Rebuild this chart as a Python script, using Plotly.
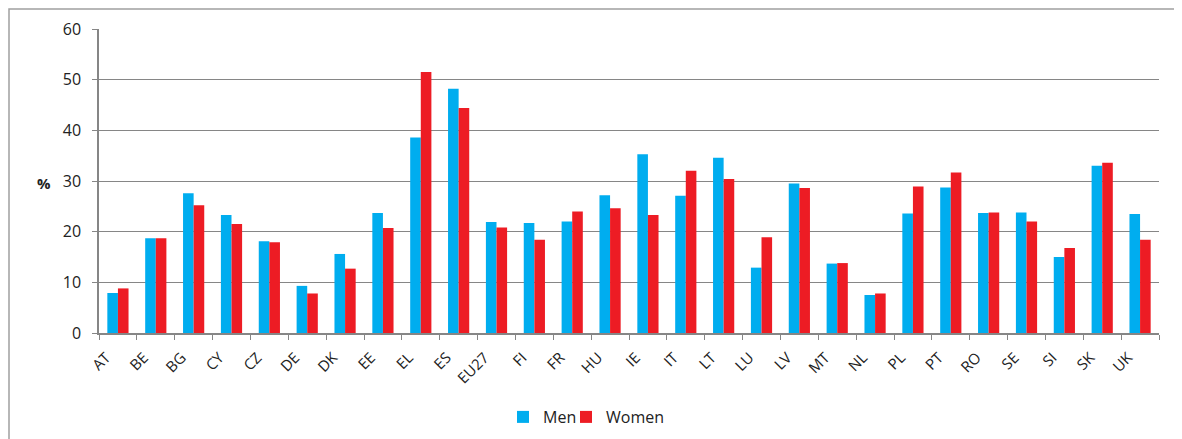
import plotly.graph_objects as go

countries = ["AT", "BE", "BG", "CY", "CZ", "DE", "DK", "EE", "EL", "ES", "EU27", "FI", "FR", "HU",
             "IE", "IT", "LT", "LU", "LV", "MT", "NL", "PL", "PT", "RO", "SE", "SI", "SK", "UK"]
men = [7.9, 18.7, 27.6, 23.3, 18.1, 9.3, 15.6, 23.7, 38.6, 48.2, 21.9, 21.7, 22.0, 27.2,
       35.3, 27.1, 34.6, 12.9, 29.5, 13.7, 7.5, 23.6, 28.7, 23.7, 23.8, 15.0, 33.0, 23.5]
women = [8.8, 18.7, 25.2, 21.5, 17.9, 7.8, 12.7, 20.7, 51.5, 44.4, 20.8, 18.4, 24.0, 24.6,
         23.3, 32.0, 30.4, 18.9, 28.6, 13.8, 7.8, 28.9, 31.7, 23.8, 22.0, 16.8, 33.6, 18.4]

FONT = "Open Sans"
GRID = "#868686"

W, H = 1174, 431
L, R, T, B = 91, 23, 21, 106
PW, PH = W - L - R, H - T - B

fig = go.Figure()
fig.add_trace(go.Bar(x=countries, y=men, name="Men", legend="legend", showlegend=True,
                     marker=dict(color="#00ADEF", line=dict(width=0))))
fig.add_trace(go.Bar(x=countries, y=women, name="Women", legend="legend2", showlegend=True,
                     marker=dict(color="#ED1C24", line=dict(width=0))))

legend_common = dict(orientation="h", xanchor="left", y=(PH + T - 409) / PH, yanchor="middle",
                     font=dict(size=16), bgcolor="rgba(0,0,0,0)", visible=True)

fig.update_layout(
    width=W, height=H,
    showlegend=True,
    margin=dict(l=L, r=R, t=T, b=B, autoexpand=False),
    paper_bgcolor="white", plot_bgcolor="white",
    barmode="group", bargap=0.44, bargroupgap=0,
    font=dict(family=FONT, size=15, color="#222222"),
    legend=dict(x=(495 - L) / PW, **legend_common),
    legend2=dict(x=(558 - L) / PW, **legend_common),
    xaxis=dict(type="category", tickangle=-45, showline=True, linecolor=GRID, linewidth=2,
               ticks="outside", tickson="boundaries", ticklen=5, tickcolor=GRID, tickwidth=1,
               showgrid=False, tickfont=dict(size=15), automargin=False,
               ticklabelstandoff=8, ticklabelshift=-12),
    yaxis=dict(range=[0, 60], dtick=10, showgrid=True, gridcolor=GRID, gridwidth=1.2,
               showline=True, linecolor=GRID, linewidth=1.5, ticks="outside", ticklen=5,
               tickcolor=GRID, zeroline=False, tickfont=dict(size=16), automargin=False,
               ticklabelstandoff=8),
    annotations=[dict(text="<b>%</b>", xref="paper", yref="paper", x=(36 - L) / PW,
                      y=(PH + T - 175) / PH, showarrow=False, font=dict(size=15),
                      xanchor="center", yanchor="middle")],
    shapes=[dict(type="rect", xref="paper", yref="paper",
                 x0=(1 - L) / PW, x1=(1171 - L) / PW,
                 y0=-0.5, y1=(PH + T - 1) / PH,
                 line=dict(color="#A0A0A0", width=1.5), layer="below")],
)

fig.write_html("out.html")
